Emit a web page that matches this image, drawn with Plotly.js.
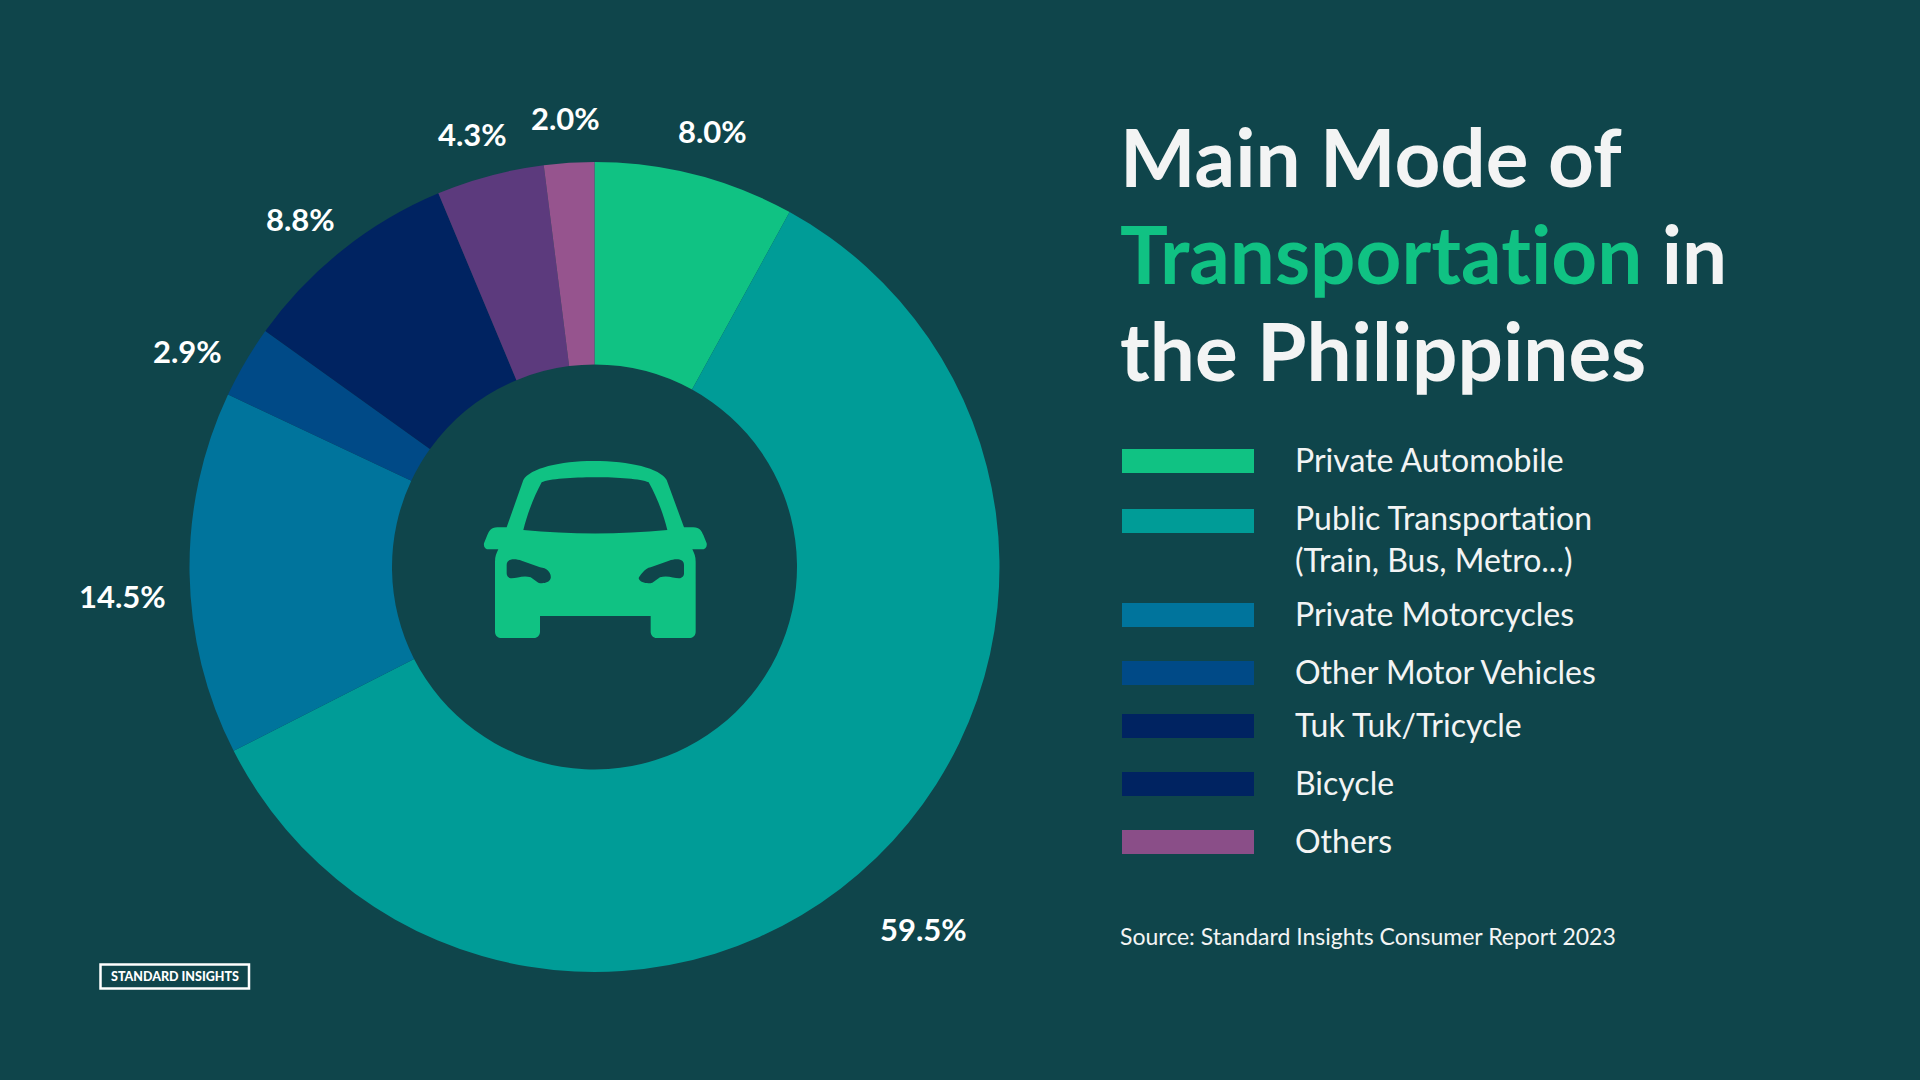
<!DOCTYPE html>
<html>
<head>
<meta charset="utf-8">
<script src="https://cdn.plot.ly/plotly-3.0.1.min.js"></script>
<style>html,body{margin:0;padding:0;background:#0f454b;overflow:hidden}#chart{width:1920px;height:1080px}svg text{font-variant-ligatures:none !important;font-feature-settings:"liga" 0,"clig" 0 !important}</style>
</head>
<body>
<div id="chart"></div>
<script>
const categories = ["Private Automobile","Public Transportation","Private Motorcycles","Other Motor Vehicles","Tuk Tuk/Tricycle","Bicycle","Others"];
const values = [8.0,59.5,14.5,2.9,8.8,4.3,2.0];
const sliceColors = ["#10c283","#009c97","#00749c","#004a87","#002361","#5c3a7d","#96548e"];
const legendLabels = ["Private Automobile","Public Transportation<br>(Train, Bus, Metro...)","Private Motorcycles","Other Motor Vehicles","Tuk Tuk/Tricycle","Bicycle","Others"];
const legendColors = ["#10c283","#009c97","#00749c","#004a87","#002361","#002361","#8a4e88"];
const titleLines = ["Main Mode of","<span style='color:#10c283'>Transportation</span> in","the Philippines"];

const W = 1920, H = 1080;
const BG = "#0f454b", FONT = "Lato, 'Open Sans', sans-serif", TEXT = "#f3f4f4";
const px = v => v / W, py = v => 1 - v / H;

// layout positions (pixels on the 1920x1080 page)
const cx = 594.5, cy = 567, R = 405;
const labelPos = [[712,131],[923,929],[122,596],[187,351],[300,219],[472,134],[565,118]];
const swatchTop = [449,509,603,661,714,772,830];
const legendTextY = [459.7,539,613.6,671.5,724.4,782.6,840.4];
const titleY = [156,253,350];

// car icon, drawn in a 780x660 box, mapped to the page
const carX = x => (460 + x / 3) / W, carY = y => 1 - (440 + y / 3) / H;
const carCmds = [
 ["M",190,120],["C",210,85,300,63,400,63],["C",510,63,600,85,620,120],["L",672,262],["L",700,262],
 ["C",720,262,725,275,730,285],["L",740,310],["C",742,322,735,328,725,328],["L",697,328],
 ["C",703,340,707,350,707,365],["L",707,575],["C",707,588,697,594,688,594],["L",590,594],
 ["C",580,594,572,586,572,575],["L",572,528],["L",240,528],["L",240,575],["C",240,586,232,594,222,594],
 ["L",124,594],["C",115,594,105,588,105,575],["L",105,365],["C",105,350,109,340,115,328],["L",87,328],
 ["C",77,328,70,322,72,310],["L",82,285],["C",87,275,92,262,112,262],["L",140,262],["Z"],
 ["M",245,127],["C",290,107,520,107,566,127],["C",590,170,610,220,622,270],["C",480,284,330,284,190,270],["C",205,210,225,165,245,127],["Z"],
 ["M",140,375],["C",140,355,165,355,185,362],["L",240,382],["C",262,384,275,400,272,415],["C",268,430,245,432,235,428],["L",212,412],["C",190,405,170,415,155,415],["C",145,415,140,408,140,400],["Z"],
 ["M",672,375],["C",672,355,647,355,627,362],["L",572,382],["C",555,384,537,410,536,415],["C",540,430,567,432,577,428],["L",600,412],["C",622,405,642,415,657,415],["C",667,415,672,408,672,400],["Z"]
];
const carPath = carCmds.map(c => {
  let s = c[0];
  for (let i = 1; i < c.length; i += 2) s += (i > 1 ? " " : "") + carX(c[i]) + "," + carY(c[i + 1]);
  return s;
}).join(" ");

const shapes = [], annotations = [];
legendColors.forEach((col, i) => {
  shapes.push({type:"rect",xref:"paper",yref:"paper",x0:px(1122),x1:px(1254),y0:py(swatchTop[i]),y1:py(swatchTop[i]+24),fillcolor:col,line:{width:0}});
});
legendLabels.forEach((t, i) => {
  annotations.push({xref:"paper",yref:"paper",x:px(1293),y:py(legendTextY[i]),xanchor:"left",yanchor:"middle",align:"left",showarrow:false,text:t,font:{family:FONT,size:32,color:TEXT}});
});
values.forEach((v, i) => {
  annotations.push({xref:"paper",yref:"paper",x:px(labelPos[i][0]),y:py(labelPos[i][1]),xanchor:"center",yanchor:"middle",showarrow:false,text:v.toFixed(1)+"%",font:{family:FONT,size:31,color:"#ffffff",weight:700}});
});
titleLines.forEach((t, i) => {
  annotations.push({xref:"paper",yref:"paper",x:px(1118),y:py(titleY[i]),xanchor:"left",yanchor:"middle",align:"left",showarrow:false,text:t,font:{family:FONT,size:80,color:TEXT,weight:700}});
});
annotations.push({xref:"paper",yref:"paper",x:px(1118),y:py(936),xanchor:"left",yanchor:"middle",showarrow:false,text:"Source: Standard Insights Consumer Report 2023",font:{family:FONT,size:23,color:TEXT}});
annotations.push({xref:"paper",yref:"paper",x:px(174.5),y:py(976.5),xanchor:"center",yanchor:"middle",showarrow:false,text:"STANDARD INSIGHTS",font:{family:FONT,size:12.5,color:"#ffffff",weight:900}});
shapes.push({type:"rect",xref:"paper",yref:"paper",x0:px(100.5),x1:px(249),y0:py(964.5),y1:py(988.5),fillcolor:"rgba(0,0,0,0)",line:{color:"#ffffff",width:2.5}});
shapes.push({type:"path",xref:"paper",yref:"paper",path:carPath,fillcolor:"#10c283",line:{width:0},fillrule:"evenodd"});

Plotly.newPlot("chart",[{
  type:"pie",labels:categories,values:values,hole:0.5,sort:false,direction:"clockwise",rotation:0,
  marker:{colors:sliceColors,line:{width:0}},textinfo:"none",
  domain:{x:[px(cx-R),px(cx+R)],y:[py(cy+R),py(cy-R)]}
}],{
  width:W,height:H,margin:{l:0,r:0,t:0,b:0},paper_bgcolor:BG,plot_bgcolor:BG,showlegend:false,
  shapes:shapes,annotations:annotations
},{displayModeBar:false});
</script>
</body>
</html>
